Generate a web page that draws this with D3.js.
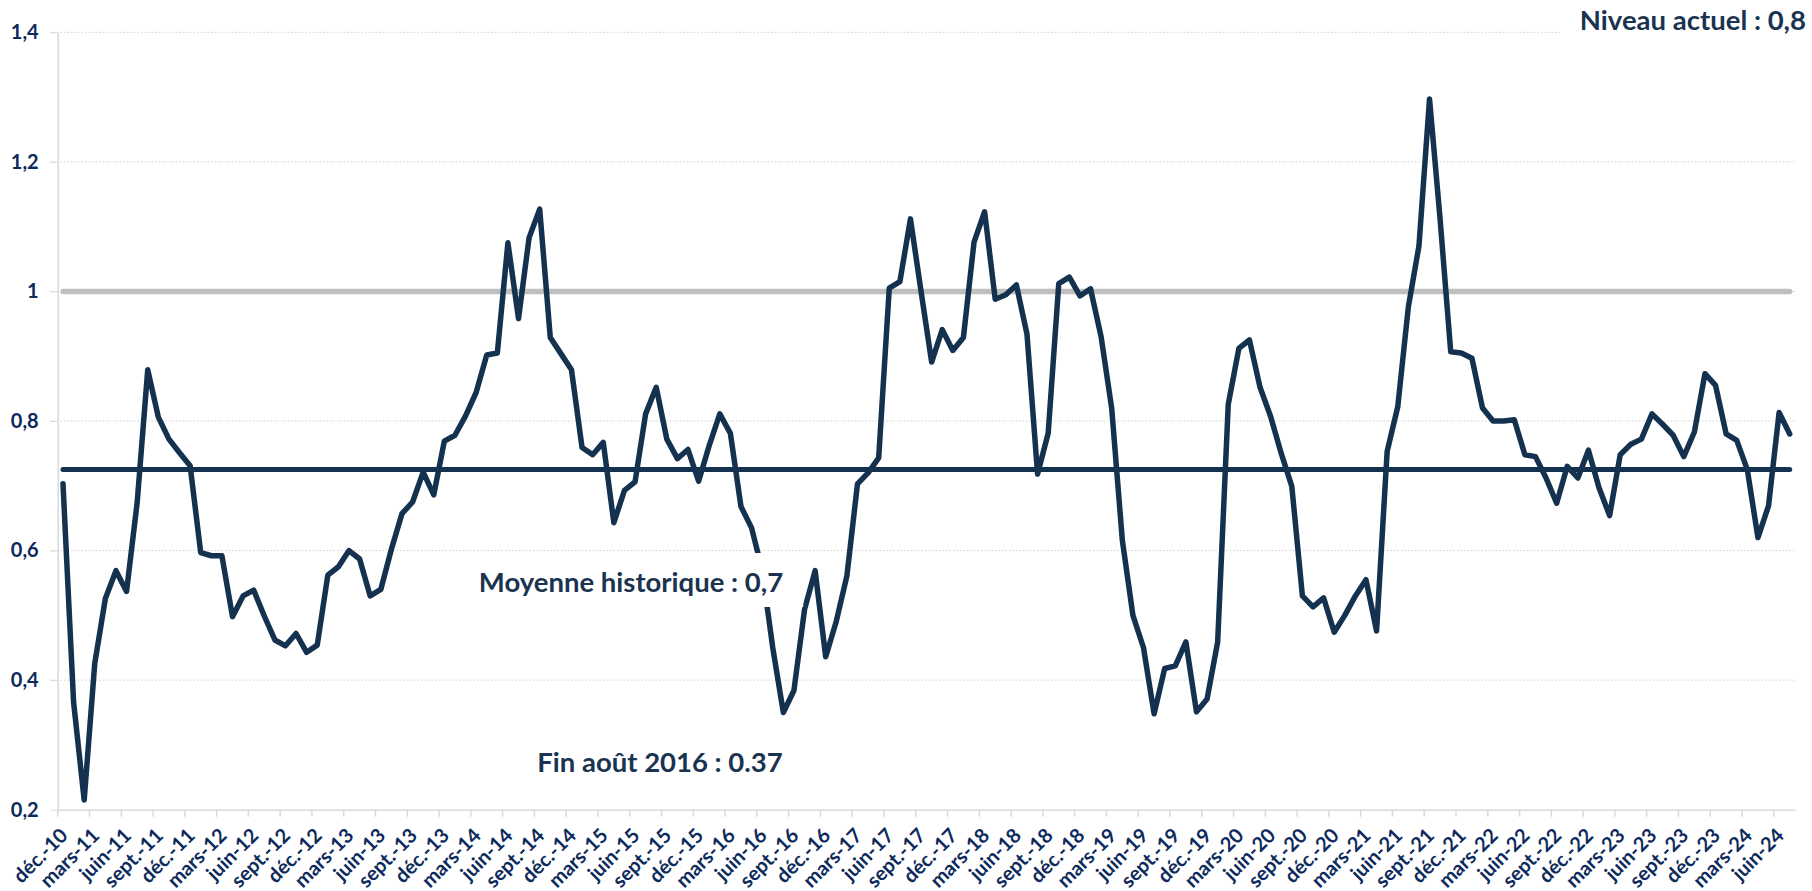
<!DOCTYPE html>
<html>
<head>
<meta charset="utf-8">
<script src="https://cdn.jsdelivr.net/npm/d3@7"></script>
<style>
    body { margin: 0; background: #fff; }
    svg { display: block; font-family: Lato, "Open Sans", sans-serif; font-weight: bold; }
</style>
</head>
<body>
<div class="chart-container"></div>
<script>
// valeurs mensuelles, déc. 2010 -> juil. 2024
const values = [
    0.703, 0.366, 0.215, 0.426, 0.526, 0.569, 0.537, 0.674, 0.879, 0.806, 0.772, 0.751,
    0.731, 0.597, 0.592, 0.592, 0.498, 0.530, 0.539, 0.499, 0.462, 0.453, 0.472, 0.443,
    0.454, 0.562, 0.575, 0.600, 0.587, 0.530, 0.540, 0.602, 0.657, 0.675, 0.721, 0.686,
    0.769, 0.778, 0.808, 0.844, 0.902, 0.905, 1.075, 0.958, 1.083, 1.127, 0.929, 0.904,
    0.879, 0.759, 0.748, 0.767, 0.643, 0.693, 0.706, 0.811, 0.852, 0.772, 0.742, 0.756,
    0.707, 0.762, 0.811, 0.781, 0.668, 0.635, 0.570, 0.450, 0.350, 0.384, 0.509, 0.569,
    0.436, 0.491, 0.561, 0.703, 0.720, 0.743, 1.005, 1.015, 1.112, 1.000, 0.891, 0.941,
    0.909, 0.929, 1.076, 1.123, 0.988, 0.995, 1.010, 0.934, 0.718, 0.781, 1.012, 1.022,
    0.993, 1.004, 0.930, 0.819, 0.616, 0.500, 0.450, 0.348, 0.418, 0.422, 0.459, 0.351,
    0.371, 0.459, 0.826, 0.912, 0.925, 0.852, 0.807, 0.750, 0.699, 0.530, 0.513, 0.527,
    0.474, 0.500, 0.530, 0.555, 0.476, 0.753, 0.822, 0.976, 1.070, 1.297, 1.111, 0.907,
    0.905, 0.897, 0.820, 0.800, 0.800, 0.802, 0.748, 0.745, 0.712, 0.673, 0.730, 0.712,
    0.755, 0.697, 0.654, 0.748, 0.764, 0.772, 0.811, 0.795, 0.778, 0.745, 0.783, 0.873,
    0.855, 0.780, 0.770, 0.725, 0.620, 0.669, 0.813, 0.780
];

// une étiquette tous les 3 mois
const xTickLabels = [
    "déc.-10", "mars-11", "juin-11", "sept.-11", "déc.-11", "mars-12", "juin-12", "sept.-12",
    "déc.-12", "mars-13", "juin-13", "sept.-13", "déc.-13", "mars-14", "juin-14", "sept.-14",
    "déc.-14", "mars-15", "juin-15", "sept.-15", "déc.-15", "mars-16", "juin-16", "sept.-16",
    "déc.-16", "mars-17", "juin-17", "sept.-17", "déc.-17", "mars-18", "juin-18", "sept.-18",
    "déc.-18", "mars-19", "juin-19", "sept.-19", "déc.-19", "mars-20", "juin-20", "sept.-20",
    "déc.-20", "mars-21", "juin-21", "sept.-21", "déc.-21", "mars-22", "juin-22", "sept.-22",
    "déc.-22", "mars-23", "juin-23", "sept.-23", "déc.-23", "mars-24", "juin-24"
];

const yTicks = [0.2, 0.4, 0.6, 0.8, 1, 1.2, 1.4];
const yTickLabels = ["0,2", "0,4", "0,6", "0,8", "1", "1,2", "1,4"];

const seuil = 1;
const moyenne = 0.725;

const labelNiveau = "Niveau actuel : 0,8";
const labelMoyenne = "Moyenne historique : 0,7";
const labelAout = "Fin août 2016 : 0.37";

const Chart = {
    width: 1812,
    height: 891,
    navy: "#14324f",
    tickColor: "#0d2a5c",
    load: function() {
        const svg = d3.select(".chart-container")
            .append("svg")
            .attr("width", this.width)
            .attr("height", this.height);

        const x = d3.scaleBand()
            .domain(d3.range(values.length))
            .range([57.7, 1795]);
        const y = d3.scaleLinear()
            .domain([0.2, 1.4])
            .range([809.7, 32.3]);
        const cx = i => x(i) + x.bandwidth() / 2;

        // grille pointillée
        svg.append("g")
            .selectAll("line")
            .data(yTicks.slice(1))
            .join("line")
            .attr("x1", 50)
            .attr("x2", 1795)
            .attr("y1", d => y(d))
            .attr("y2", d => y(d))
            .attr("stroke", "#d0d0d0")
            .attr("stroke-width", 1)
            .attr("stroke-dasharray", "1.5,2");

        const yAxis = svg.append("g")
            .attr("transform", "translate(57.7,0)")
            .call(d3.axisLeft(y)
                .tickValues(yTicks)
                .tickFormat((d, i) => yTickLabels[i])
                .tickSize(7)
                .tickSizeOuter(0)
                .tickPadding(12));
        yAxis.select(".domain").attr("stroke", "#d9d9d9").attr("stroke-width", 1.5);
        yAxis.selectAll(".tick line").attr("stroke", "#d9d9d9");
        yAxis.selectAll(".tick text")
            .attr("fill", this.tickColor)
            .attr("font-size", 20)
            .attr("font-family", "Lato, sans-serif")
            .attr("font-weight", "bold");

        const xAxis = svg.append("g")
            .attr("transform", "translate(0,809.7)")
            .call(d3.axisBottom(x)
                .tickValues(d3.range(0, values.length, 3))
                .tickFormat(d => xTickLabels[d / 3])
                .tickSize(7)
                .tickSizeOuter(0));
        xAxis.select(".domain").attr("stroke", "#d9d9d9").attr("stroke-width", 1.5);
        xAxis.selectAll(".tick line")
            .attr("stroke", "#d9d9d9")
            .attr("stroke-width", 1.5)
            .attr("transform", `translate(${-x.bandwidth() / 2},0)`);
        xAxis.selectAll(".tick text")
            .attr("x", 0)
            .attr("y", 0)
            .attr("dy", 0)
            .attr("transform", "translate(6,27) rotate(-45)")
            .attr("text-anchor", "end")
            .attr("fill", this.tickColor)
            .attr("font-size", 20)
            .attr("font-family", "Lato, sans-serif")
            .attr("font-weight", "bold");

        // seuil à 1 et moyenne historique
        svg.append("line")
            .attr("x1", cx(0))
            .attr("x2", cx(values.length - 1))
            .attr("y1", y(seuil))
            .attr("y2", y(seuil))
            .attr("stroke", "#bfbfbf")
            .attr("stroke-width", 5.5)
            .attr("stroke-linecap", "round");

        svg.append("line")
            .attr("x1", cx(0))
            .attr("x2", cx(values.length - 1))
            .attr("y1", y(moyenne))
            .attr("y2", y(moyenne))
            .attr("stroke", this.navy)
            .attr("stroke-width", 5)
            .attr("stroke-linecap", "round");

        svg.append("path")
            .datum(values)
            .attr("fill", "none")
            .attr("stroke", this.navy)
            .attr("stroke-width", 5.5)
            .attr("stroke-linejoin", "round")
            .attr("stroke-linecap", "round")
            .attr("d", d3.line().x((d, i) => cx(i)).y(d => y(d)));

        this.label(svg, labelMoyenne, 631, 592, "middle", [20, 39, 15]);
        this.label(svg, labelAout, 660, 772, "middle", null);
        this.label(svg, labelNiveau, 1806, 30, "end", [20, 22, 14]);
    },
    label: function(svg, txt, xPos, yPos, anchor, pad) {
        const g = svg.append("g");
        const rect = g.append("rect").attr("fill", "#fff");
        const t = g.append("text")
            .attr("x", xPos)
            .attr("y", yPos)
            .attr("text-anchor", anchor)
            .attr("fill", "#1a3350")
            .attr("font-size", 27.5)
            .text(txt);
        if (pad) {
            const b = t.node().getBBox();
            rect.attr("x", b.x - pad[0])
                .attr("y", yPos - pad[1])
                .attr("width", b.width + 2 * pad[0])
                .attr("height", pad[1] + pad[2]);
        }
    }
};

Chart.load();
</script>
</body>
</html>
